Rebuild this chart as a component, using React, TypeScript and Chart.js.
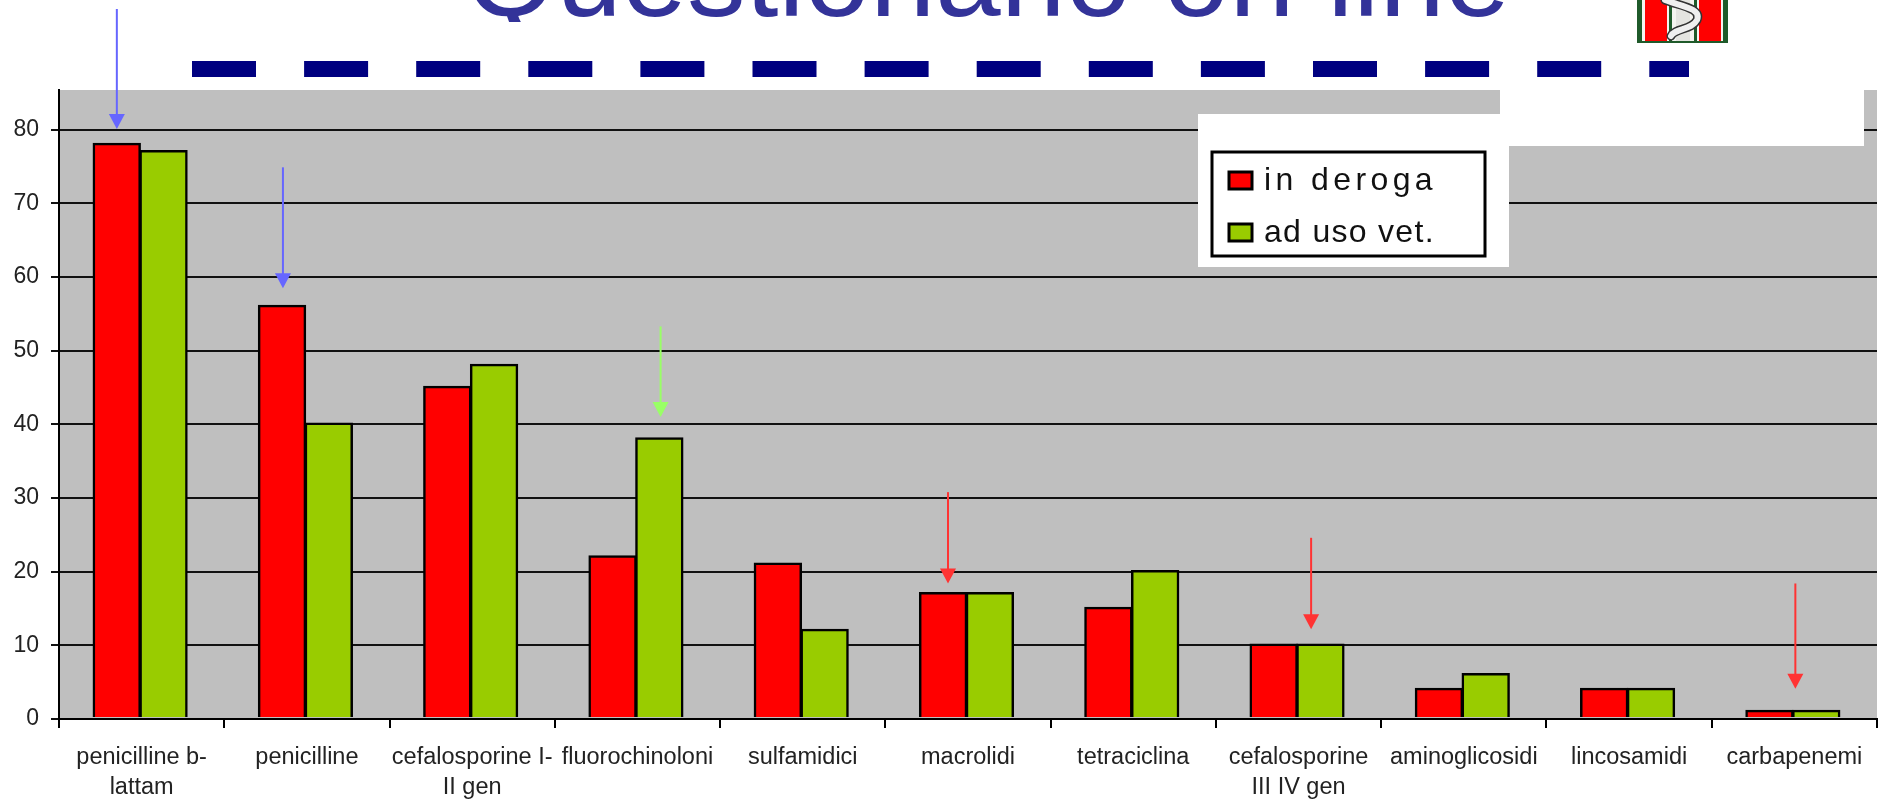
import React, { useEffect, useRef } from "react";
import { Chart, registerables } from "chart.js";

Chart.register(...registerables);

const categories: (string | string[])[] = [
  ["penicilline b-", "lattam"],
  "penicilline",
  ["cefalosporine I-", "II gen"],
  "fluorochinoloni",
  "sulfamidici",
  "macrolidi",
  "tetraciclina",
  ["cefalosporine", "III IV gen"],
  "aminoglicosidi",
  "lincosamidi",
  "carbapenemi",
];
const inDeroga = [78, 56, 45, 22, 21, 17, 15, 10, 4, 4, 1];
const adUsoVet = [77, 40, 48, 38, 12, 17, 20, 10, 6, 4, 1];
const seriesNames = ["in deroga", "ad uso vet."];
const titleText = "Questionario on line";

// Arrow annotations, in axis units: category position, start value, end value, colour
const arrowCats = [-0.15, 0.855, 3.14, 4.879, 7.076, 10.006];
const arrowFrom = [96.4, 74.9, 53.3, 30.8, 24.6, 18.4];
const arrowTo = [80.1, 58.5, 41, 18.4, 12.2, 4.1];
const arrowColors = ["#6666ff", "#6666ff", "#99ff66", "#ff3333", "#ff3333", "#ff3333"];

const RED = "#ff0000";
const GREEN = "#99cc00";
const FONT = '"Liberation Sans", Arial, sans-serif';
const legendSpacing = [4.4, 1.3];

const decor = {
  id: "decor",
  beforeDraw(chart: any) {
    const { ctx, chartArea: a } = chart;
    ctx.save();
    ctx.fillStyle = "#ffffff";
    ctx.fillRect(0, 0, chart.width, chart.height);
    ctx.fillStyle = "#bfbfbf";
    ctx.fillRect(a.left, a.top, a.right - a.left, a.bottom - a.top);
    ctx.restore();
  },
  beforeDatasetsDraw(chart: any) {
    chart.ctx.save();
    chart.ctx.translate(-1.5, -1);
  },
  afterDatasetsDraw(chart: any) {
    chart.ctx.restore();
  },
  afterDraw(chart: any) {
    const { ctx } = chart;
    const xs = chart.scales.x;
    const ys = chart.scales.y;
    ctx.save();

    // arrows
    arrowCats.forEach((c, i) => {
      const x = xs.getPixelForValue(c);
      const y0 = ys.getPixelForValue(arrowFrom[i]);
      const y1 = ys.getPixelForValue(arrowTo[i]);
      ctx.strokeStyle = arrowColors[i];
      ctx.fillStyle = arrowColors[i];
      ctx.lineWidth = 2;
      ctx.beginPath();
      ctx.moveTo(x, y0);
      ctx.lineTo(x, y1 - 8);
      ctx.stroke();
      ctx.beginPath();
      ctx.moveTo(x - 8, y1 - 15);
      ctx.lineTo(x + 8, y1 - 15);
      ctx.lineTo(x, y1);
      ctx.closePath();
      ctx.fill();
    });

    // white patches over the plot
    ctx.fillStyle = "#ffffff";
    ctx.fillRect(1198, 114, 311, 153);
    ctx.fillRect(1500, 90, 364, 56);

    // dashed rule
    ctx.strokeStyle = "#000080";
    ctx.lineWidth = 16;
    ctx.setLineDash([64, 48.1]);
    ctx.beginPath();
    ctx.moveTo(192, 69);
    ctx.lineTo(1689, 69);
    ctx.stroke();
    ctx.setLineDash([]);

    // title, cut off at the top edge and just below the baseline
    ctx.save();
    ctx.beginPath();
    ctx.rect(0, 0, chart.width, 22);
    ctx.clip();
    ctx.fillStyle = "#333399";
    ctx.font = `117.5px ${FONT}`;
    ctx.textBaseline = "alphabetic";
    ctx.textAlign = "left";
    ctx.fillText(titleText, 465, 16);
    ctx.restore();

    // logo
    ctx.fillStyle = "#1f5a2a";
    ctx.fillRect(1637, 0, 91, 43);
    ctx.fillStyle = "#f4f4f0";
    ctx.fillRect(1642, 0, 81, 41);
    ctx.fillStyle = "#ff0000";
    ctx.fillRect(1645, 0, 22, 41);
    ctx.fillRect(1699, 0, 22, 41);
    ctx.fillStyle = "#1f5a2a";
    ctx.fillRect(1669, 0, 3, 41);
    ctx.fillRect(1694, 0, 3, 41);
    ctx.fillStyle = "#e4e4e0";
    ctx.fillRect(1676, 0, 14, 41);
    ctx.lineCap = "round";
    ctx.strokeStyle = "#333333";
    ctx.lineWidth = 9;
    ctx.beginPath();
    ctx.moveTo(1665, 0);
    ctx.bezierCurveTo(1680, 6, 1702, 8, 1697, 20);
    ctx.bezierCurveTo(1692, 30, 1675, 28, 1671, 36);
    ctx.stroke();
    ctx.strokeStyle = "#efefef";
    ctx.lineWidth = 6;
    ctx.stroke();
    ctx.lineCap = "butt";

    // legend
    ctx.strokeStyle = "#000000";
    ctx.lineWidth = 3;
    ctx.fillStyle = "#ffffff";
    ctx.fillRect(1212, 152, 273, 104);
    ctx.strokeRect(1212, 152, 273, 104);
    [RED, GREEN].forEach((col, i) => {
      const y = 172 + i * 52;
      ctx.fillStyle = col;
      ctx.fillRect(1229, y, 23, 17);
      ctx.lineWidth = 3;
      ctx.strokeRect(1229, y, 23, 17);
      ctx.fillStyle = "#111111";
      ctx.font = `32px ${FONT}`;
      (ctx as any).letterSpacing = `${legendSpacing[i]}px`;
      ctx.fillText(seriesNames[i], 1264, y + 18);
      (ctx as any).letterSpacing = "0px";
    });
    ctx.restore();
  },
};

export default function App() {
  const ref = useRef<HTMLCanvasElement>(null);
  useEffect(() => {
    const chart = new Chart(ref.current as HTMLCanvasElement, {
      type: "bar",
      data: {
        labels: categories as any,
        datasets: [
          { label: seriesNames[0], data: inDeroga, backgroundColor: RED, borderColor: "#000", borderWidth: 2.5, inflateAmount: 0.8 },
          { label: seriesNames[1], data: adUsoVet, backgroundColor: GREEN, borderColor: "#000", borderWidth: 2.5, inflateAmount: 0.8 },
        ],
      },
      options: {
        responsive: false,
        animation: false,
        layout: { padding: { top: 90, right: 4, left: 0, bottom: 0 } },
        datasets: { bar: { categoryPercentage: 0.566, barPercentage: 1 } },
        plugins: { legend: { display: false }, title: { display: false }, tooltip: { enabled: false } },
        scales: {
          x: {
            offset: true,
            afterFit: (s: any) => { s.height = 83; },
            grid: { drawOnChartArea: false, drawTicks: true, tickLength: 9, color: "#000", lineWidth: 2, offset: true },
            border: { color: "#000", width: 2 },
            ticks: {
              autoSkip: false, maxRotation: 0, minRotation: 0, padding: 14,
              color: "#222", font: { family: FONT, size: 23.5, lineHeight: 1.28 },
            },
          },
          y: {
            min: 0,
            max: 85.4,
            afterFit: (s: any) => { s.width = 59; },
            afterBuildTicks: (s: any) => { s.ticks = [0,10,20,30,40,50,60,70,80].map((v) => ({ value: v })); },
            grid: { color: "#111", lineWidth: 2, tickLength: 8 },
            border: { color: "#000", width: 2 },
            ticks: { padding: 12, color: "#222", font: { family: FONT, size: 23 } },
          },
        },
      } as any,
      plugins: [decor],
    });
    return () => chart.destroy();
  }, []);
  return (
    <div style={{ position: "absolute", left: 0, top: 0, width: 1881, height: 802 }}>
      <canvas ref={ref} width={1881} height={802} style={{ display: "block" }} />
    </div>
  );
}
